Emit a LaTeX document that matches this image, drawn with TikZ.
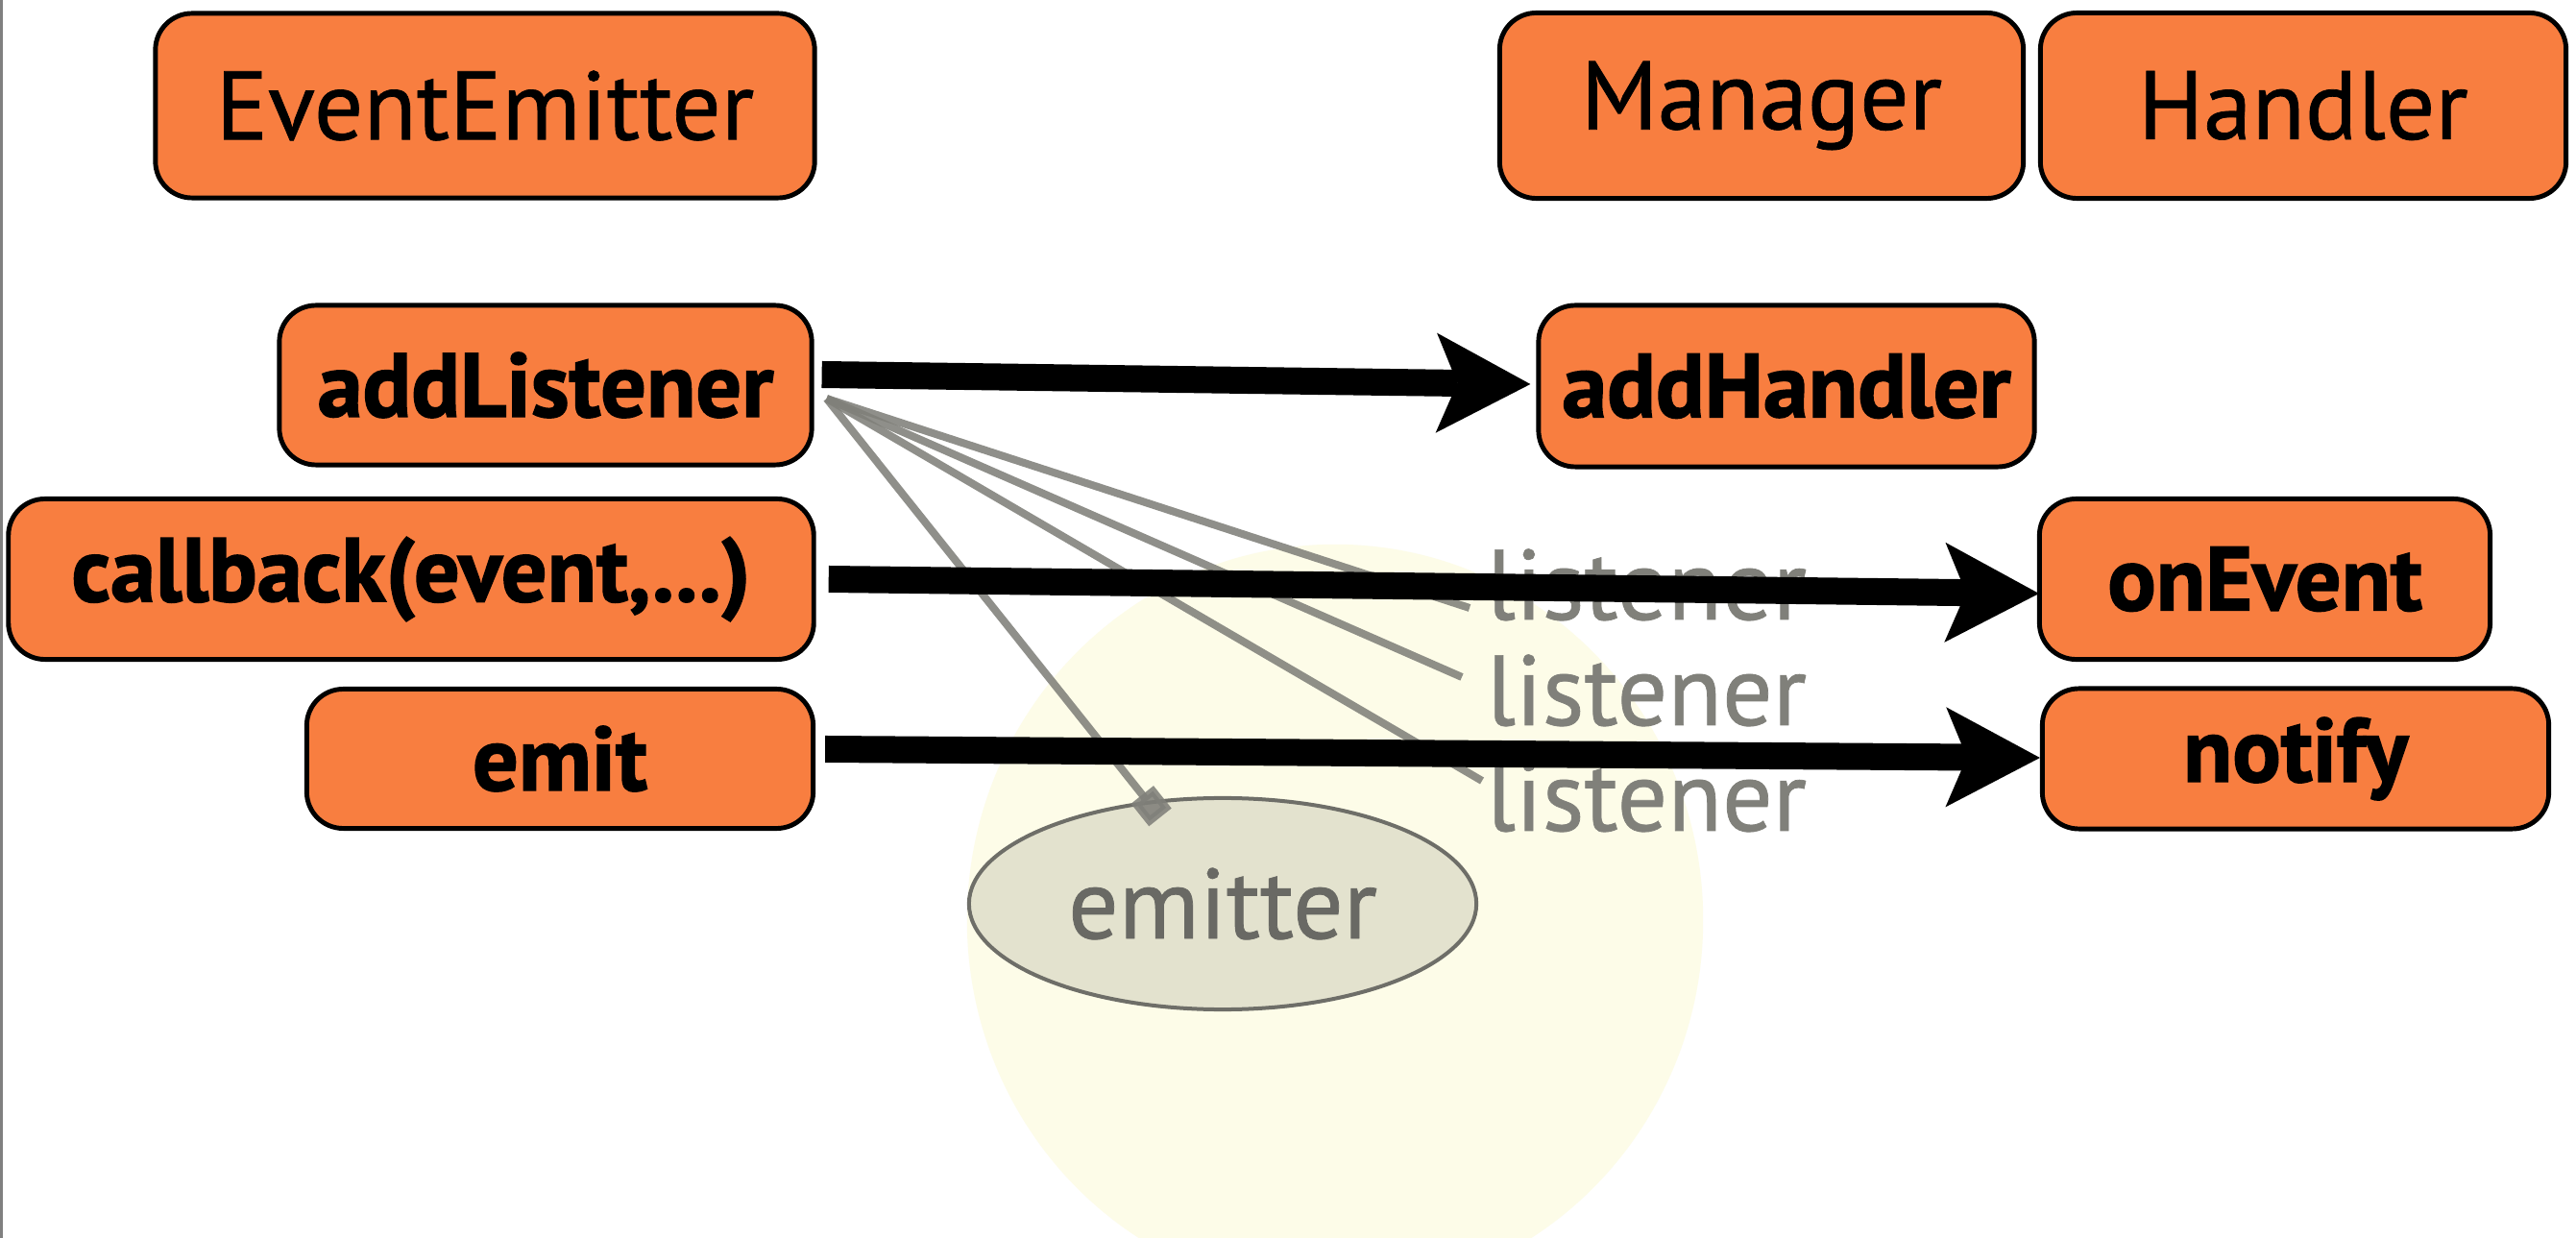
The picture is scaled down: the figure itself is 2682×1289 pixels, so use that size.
\documentclass[tikz,border=0pt]{standalone}
\usepackage{fontspec}
\setmainfont{PT Sans}[BoldFeatures={FakeBold=1.6}]
\newfontfamily\regheavy{PT Sans}[FakeBold=0.7]
\usetikzlibrary{arrows.meta,shapes.geometric}
\definecolor{boxorange}{RGB}{248,126,64}
\definecolor{blobcol}{RGB}{253,252,232}
\definecolor{emfill}{RGB}{227,226,206}
\definecolor{emdraw}{RGB}{110,110,104}
\definecolor{emtext}{RGB}{105,105,100}
\definecolor{lgrey}{RGB}{128,128,122}
\begin{document}
\begin{tikzpicture}[x=0.01cm,y=-0.01cm,
  box/.style={draw=black, line width=1.4pt, fill=boxorange, rounded corners=0.38cm, inner sep=0pt, align=center},
  titlebox/.style={box, font=\regheavy\fontsize{28.8}{30}\selectfont},
  opbox/.style={box, font=\bfseries\fontsize{26.8}{28}\selectfont},
  bigarrow/.style={line width=0.28cm, -{Stealth[length=0.98cm,width=1.04cm,inset=0.22cm,line width=0pt]}},
  greyline/.style={draw=lgrey, line width=0.08cm, opacity=0.88},
  lbl/.style={text=lgrey, font=\regheavy\fontsize{29.5}{30}\selectfont, anchor=base west, inner sep=0pt}
]
\useasboundingbox (0,0) rectangle (2682,1289);
\clip (0,0) rectangle (2682,1289);
\fill[white] (0,0) rectangle (2682,1289);
\draw[draw=gray, line width=0.03cm] (1,0) -- (1,1289);
% background blob
\fill[blobcol] (1390,958) ellipse [x radius=3.83cm, y radius=3.91cm];

% class boxes
\node[titlebox, minimum width=6.86cm, minimum height=1.92cm] (EE) at (505,110) {EventEmitter};
\node[titlebox, minimum width=5.45cm, minimum height=1.93cm] (MG) at (1834,110) {Manager};
\node[titlebox, minimum width=5.47cm, minimum height=1.93cm] (HD) at (2398,110) {Handler};

% operation boxes
\node[opbox, minimum width=5.54cm, minimum height=1.66cm] (addListener) at (568,401) {addListener};
\node[opbox, minimum width=5.16cm, minimum height=1.68cm] (addHandler) at (1860,402) {addHandler};
\node[opbox, minimum width=8.38cm, minimum height=1.67cm] (callback) at (428,603) {callback(event,...)};
\node[opbox, minimum width=4.69cm, minimum height=1.67cm] (onEvent) at (2358,603) {onEvent};
\node[opbox, minimum width=5.27cm, minimum height=1.45cm] (emit) at (583,790) {emit};
\node[opbox, minimum width=5.27cm, minimum height=1.46cm] (notify) at (2390,790) {notify};

% emitter ellipse
\node[ellipse, draw=emdraw, line width=0.04cm, fill=emfill, minimum width=5.28cm, minimum height=2.2cm,
      inner sep=0pt, text=emtext, font=\regheavy\fontsize{29.5}{30}\selectfont] (emitter) at (1273,941) {emitter};

% listener labels
\node[lbl] (L1) at (1547,645) {listener};
\node[lbl] (L2) at (1547,755) {listener};
\node[lbl] (L3) at (1547,865) {listener};

% grey fan of lines
\coordinate (src) at ([xshift=0.13cm,yshift=-0.14cm]addListener.east);
\draw[greyline] (src) -- ([xshift=-0.17cm,yshift=0.12cm]L1.base west);
\draw[greyline] (src) -- ([xshift=-0.25cm,yshift=0.50cm]L2.base west);
\draw[greyline] (src) -- ([xshift=-0.04cm,yshift=0.52cm]L3.base west);
\draw[greyline, -{Square[length=0.3cm,width=0.3cm]}] (src) -- ([xshift=-0.65cm,yshift=0.90cm]emitter.center);

% big black arrows
\draw[bigarrow] ([xshift=0.08cm,yshift=0.11cm]addListener.east) -- ([xshift=-0.06cm,yshift=0.02cm]addHandler.west);
\draw[bigarrow] ([xshift=0.13cm]callback.east) -- ([xshift=0.02cm,yshift=-0.15cm]onEvent.west);
\draw[bigarrow] ([xshift=0.10cm,yshift=0.10cm]emit.east) -- ([yshift=0.01cm]notify.west);
\end{tikzpicture}
\end{document}
